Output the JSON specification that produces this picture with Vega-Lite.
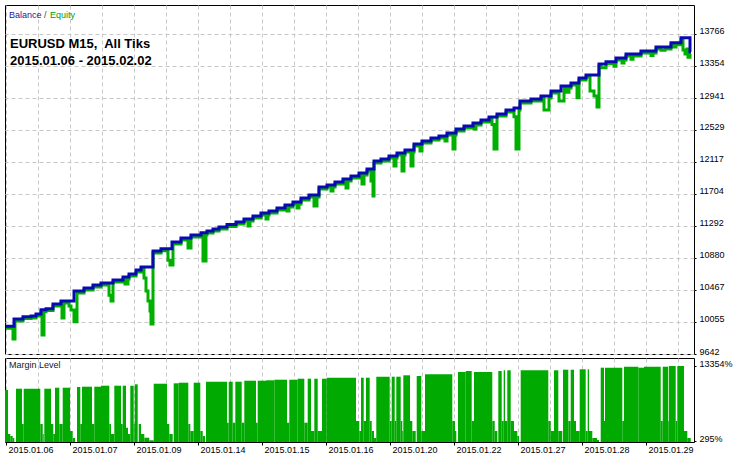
{
"$schema": "https://vega.github.io/schema/vega-lite/v6.json",
"padding": {"left": 4, "top": 4, "right": 0, "bottom": 0},
"background": "white",
"spacing": 0,
"config": {
  "view": {"stroke": "#000000", "strokeWidth": 1},
  "font": "Liberation Sans",
  "axis": {"labelFont": "Liberation Sans", "labelFontSize": 9, "labelColor": "#000000", "tickColor": "#000000"}
},
"datasets": {
"balance": [
{"i":0,"v":10000},{"i":8,"v":10093},{"i":17,"v":10123},{"i":25,"v":10132},{"i":30,"v":10157},{"i":35,"v":10213},{"i":40,"v":10226},{"i":47,"v":10286},{"i":55,"v":10325},{"i":68,"v":10454},{"i":78,"v":10493},{"i":87,"v":10531},{"i":95,"v":10557},{"i":107,"v":10596},{"i":117,"v":10634},{"i":123,"v":10673},{"i":130,"v":10725},{"i":135,"v":10763},{"i":147,"v":10969},{"i":155,"v":10999},{"i":166,"v":11085},{"i":175,"v":11137},{"i":185,"v":11176},{"i":195,"v":11205},{"i":201,"v":11227},{"i":207,"v":11253},{"i":213,"v":11279},{"i":221,"v":11311},{"i":230,"v":11343},{"i":238,"v":11382},{"i":247,"v":11420},{"i":255,"v":11459},{"i":263,"v":11485},{"i":271,"v":11524},{"i":279,"v":11562},{"i":287,"v":11601},{"i":295,"v":11653},{"i":303,"v":11691},{"i":313,"v":11794},{"i":321,"v":11820},{"i":329,"v":11859},{"i":337,"v":11897},{"i":345,"v":11936},{"i":353,"v":11975},{"i":361,"v":12026},{"i":368,"v":12129},{"i":375,"v":12155},{"i":383,"v":12194},{"i":391,"v":12232},{"i":399,"v":12271},{"i":408,"v":12348},{"i":416,"v":12387},{"i":425,"v":12425},{"i":433,"v":12451},{"i":441,"v":12490},{"i":450,"v":12541},{"i":458,"v":12580},{"i":467,"v":12619},{"i":475,"v":12657},{"i":483,"v":12696},{"i":491,"v":12735},{"i":500,"v":12787},{"i":508,"v":12812},{"i":514,"v":12903},{"i":525,"v":12928},{"i":535,"v":12967},{"i":545,"v":13031},{"i":555,"v":13096},{"i":565,"v":13135},{"i":573,"v":13199},{"i":580,"v":13238},{"i":593,"v":13380},{"i":600,"v":13409},{"i":610,"v":13457},{"i":620,"v":13508},{"i":635,"v":13547},{"i":650,"v":13598},{"i":665,"v":13654},{"i":675,"v":13718},{"i":684,"v":13538},{"i":685,"v":13538}
],
"equity": [
{"i":0,"v":9975},{"i":7,"v":9835},{"i":9,"v":10068},{"i":17,"v":10098},{"i":25,"v":10107},{"i":30,"v":10132},{"i":35,"v":10188},{"i":36,"v":9887},{"i":38,"v":10188},{"i":40,"v":10201},{"i":47,"v":10261},{"i":55,"v":10300},{"i":56,"v":10106},{"i":58,"v":10300},{"i":63,"v":10261},{"i":65,"v":10209},{"i":68,"v":10058},{"i":71,"v":10429},{"i":78,"v":10468},{"i":87,"v":10506},{"i":95,"v":10532},{"i":103,"v":10400},{"i":105,"v":10325},{"i":107,"v":10571},{"i":117,"v":10609},{"i":119,"v":10544},{"i":122,"v":10609},{"i":123,"v":10648},{"i":130,"v":10700},{"i":135,"v":10738},{"i":138,"v":10621},{"i":140,"v":10454},{"i":142,"v":10325},{"i":144,"v":10196},{"i":145,"v":10029},{"i":147,"v":10944},{"i":155,"v":10974},{"i":162,"v":10850},{"i":164,"v":10789},{"i":167,"v":11060},{"i":175,"v":11112},{"i":182,"v":11008},{"i":185,"v":11151},{"i":195,"v":11180},{"i":197,"v":10841},{"i":200,"v":11180},{"i":201,"v":11202},{"i":207,"v":11228},{"i":213,"v":11254},{"i":221,"v":11286},{"i":230,"v":11318},{"i":238,"v":11357},{"i":242,"v":11292},{"i":244,"v":11357},{"i":247,"v":11395},{"i":255,"v":11434},{"i":260,"v":11382},{"i":262,"v":11434},{"i":263,"v":11460},{"i":271,"v":11499},{"i":279,"v":11537},{"i":281,"v":11485},{"i":283,"v":11537},{"i":287,"v":11576},{"i":291,"v":11524},{"i":293,"v":11576},{"i":295,"v":11628},{"i":303,"v":11666},{"i":308,"v":11549},{"i":311,"v":11666},{"i":313,"v":11769},{"i":321,"v":11795},{"i":325,"v":11743},{"i":327,"v":11795},{"i":329,"v":11834},{"i":337,"v":11872},{"i":340,"v":11781},{"i":342,"v":11872},{"i":345,"v":11911},{"i":353,"v":11950},{"i":356,"v":11833},{"i":358,"v":11950},{"i":361,"v":12001},{"i":365,"v":11872},{"i":367,"v":11678},{"i":368,"v":12104},{"i":375,"v":12130},{"i":383,"v":12169},{"i":388,"v":12065},{"i":390,"v":12169},{"i":391,"v":12207},{"i":396,"v":12000},{"i":398,"v":12207},{"i":399,"v":12246},{"i":405,"v":12065},{"i":407,"v":12246},{"i":408,"v":12323},{"i":414,"v":12258},{"i":416,"v":12362},{"i":425,"v":12400},{"i":433,"v":12426},{"i":439,"v":12387},{"i":441,"v":12465},{"i":447,"v":12284},{"i":449,"v":12465},{"i":450,"v":12516},{"i":458,"v":12555},{"i":467,"v":12594},{"i":468,"v":12541},{"i":470,"v":12594},{"i":475,"v":12632},{"i":483,"v":12671},{"i":486,"v":12600},{"i":488,"v":12284},{"i":491,"v":12710},{"i":500,"v":12762},{"i":508,"v":12700},{"i":510,"v":12284},{"i":513,"v":12787},{"i":514,"v":12878},{"i":525,"v":12903},{"i":535,"v":12942},{"i":538,"v":12787},{"i":543,"v":12942},{"i":545,"v":13006},{"i":553,"v":12903},{"i":558,"v":13071},{"i":560,"v":13016},{"i":563,"v":13071},{"i":565,"v":13110},{"i":571,"v":12945},{"i":573,"v":13174},{"i":580,"v":13213},{"i":584,"v":13032},{"i":588,"v":12967},{"i":591,"v":12825},{"i":593,"v":13355},{"i":595,"v":13332},{"i":600,"v":13384},{"i":608,"v":13350},{"i":610,"v":13432},{"i":616,"v":13392},{"i":618,"v":13432},{"i":620,"v":13483},{"i":625,"v":13440},{"i":627,"v":13483},{"i":635,"v":13522},{"i":645,"v":13490},{"i":647,"v":13522},{"i":650,"v":13573},{"i":655,"v":13555},{"i":659,"v":13573},{"i":665,"v":13629},{"i":668,"v":13600},{"i":670,"v":13629},{"i":675,"v":13693},{"i":677,"v":13560},{"i":679,"v":13508},{"i":681,"v":13572},{"i":682,"v":13465},{"i":684,"v":13513},{"i":685,"v":13513}
],
"margin": [
{"a":-1,"b":2,"m":9175},{"a":2,"b":4.3,"m":1514},{"a":4.3,"b":6.7,"m":1166},{"a":6.7,"b":8.3,"m":817},{"a":10,"b":16,"m":9401},{"a":16,"b":17.7,"m":3255},{"a":17.7,"b":34.3,"m":9401},{"a":34.3,"b":36.7,"m":3255},{"a":36.7,"b":37.7,"m":1514},{"a":38.3,"b":45,"m":9401},{"a":45,"b":47.3,"m":3255},{"a":47.3,"b":49,"m":1514},{"a":49,"b":53.3,"m":9576},{"a":53.3,"b":56.7,"m":3255},{"a":56.7,"b":64,"m":9576},{"a":64,"b":66.7,"m":2036},{"a":66.7,"b":69,"m":817},{"a":71,"b":74.3,"m":9697},{"a":74.3,"b":76,"m":3255},{"a":76,"b":86,"m":9750},{"a":86,"b":88.3,"m":3255},{"a":88.3,"b":95,"m":9750},{"a":95,"b":103.3,"m":9924},{"a":103.3,"b":105,"m":3255},{"a":105,"b":108.3,"m":1514},{"a":108.3,"b":115,"m":9924},{"a":115,"b":116.7,"m":3255},{"a":116.7,"b":120,"m":9924},{"a":120,"b":122,"m":2610},{"a":122,"b":124.3,"m":1514},{"a":124.3,"b":127.7,"m":9924},{"a":127.7,"b":128.7,"m":3255},{"a":128.7,"b":131.7,"m":10167},{"a":132.7,"b":135,"m":3255},{"a":135,"b":138.3,"m":1514},{"a":138.3,"b":143.3,"m":870},{"a":143.3,"b":147.7,"m":417},{"a":147.7,"b":161,"m":10271},{"a":161,"b":163.3,"m":3255},{"a":163.3,"b":166.7,"m":1514},{"a":167.7,"b":172.7,"m":10341},{"a":172.7,"b":182.3,"m":10446},{"a":182.3,"b":184.3,"m":3255},{"a":184.3,"b":187.7,"m":2036},{"a":187.7,"b":194.3,"m":10446},{"a":194.3,"b":196.7,"m":2036},{"a":196.7,"b":199,"m":1166},{"a":200,"b":221,"m":10620},{"a":221,"b":222.7,"m":3481},{"a":222.7,"b":226.7,"m":10620},{"a":226.7,"b":229.3,"m":3481},{"a":229.3,"b":235.7,"m":10620},{"a":235.7,"b":238.3,"m":3481},{"a":238.3,"b":250,"m":10794},{"a":250,"b":251.7,"m":3481},{"a":251.7,"b":260,"m":10794},{"a":260,"b":268.3,"m":10864},{"a":268.3,"b":281,"m":10968},{"a":281,"b":283.3,"m":3481},{"a":283.3,"b":291.7,"m":10968},{"a":291.7,"b":298.3,"m":11142},{"a":298.3,"b":301.7,"m":3481},{"a":301.7,"b":305,"m":11142},{"a":305,"b":308.3,"m":2036},{"a":308.3,"b":311.7,"m":11142},{"a":311.7,"b":316,"m":2036},{"a":316,"b":320.7,"m":11142},{"a":320.7,"b":350,"m":11317},{"a":350,"b":353.3,"m":3777},{"a":353.3,"b":355,"m":2036},{"a":355,"b":357.7,"m":11317},{"a":357.7,"b":360,"m":3777},{"a":360,"b":363.7,"m":11317},{"a":363.7,"b":365.7,"m":3777},{"a":365.7,"b":368,"m":2036},{"a":368,"b":370.3,"m":817},{"a":370.3,"b":383.7,"m":11491},{"a":383.7,"b":385.7,"m":3777},{"a":385.7,"b":388.7,"m":11491},{"a":388.7,"b":390.3,"m":3777},{"a":390.3,"b":394.7,"m":11491},{"a":394.7,"b":396.3,"m":3777},{"a":396.3,"b":397.3,"m":2036},{"a":397.3,"b":404,"m":11735},{"a":404,"b":406.3,"m":3777},{"a":406.3,"b":409.7,"m":2036},{"a":410.7,"b":415.3,"m":11613},{"a":415.3,"b":419,"m":2036},{"a":419,"b":446.3,"m":11909},{"a":446.3,"b":449,"m":3777},{"a":449,"b":450.3,"m":2036},{"a":452,"b":459.7,"m":12309},{"a":459.7,"b":465.7,"m":12483},{"a":465.7,"b":468,"m":3777},{"a":468,"b":486.3,"m":12309},{"a":486.3,"b":488.7,"m":3777},{"a":488.7,"b":491.3,"m":2036},{"a":492.3,"b":495.7,"m":12483},{"a":495.7,"b":497.7,"m":3777},{"a":497.7,"b":499,"m":12605},{"a":499,"b":501.3,"m":3777},{"a":501.3,"b":504.7,"m":12605},{"a":504.7,"b":508,"m":3777},{"a":508,"b":511.3,"m":2036},{"a":511.3,"b":513,"m":1166},{"a":514.7,"b":542.3,"m":12605},{"a":542.3,"b":544.7,"m":3777},{"a":544.7,"b":548,"m":2036},{"a":548,"b":552.3,"m":12605},{"a":552.3,"b":556.3,"m":2036},{"a":557,"b":562.3,"m":12710},{"a":562.3,"b":564.7,"m":3777},{"a":564.7,"b":568,"m":12710},{"a":568,"b":570,"m":3777},{"a":570,"b":573.7,"m":2036},{"a":573.7,"b":579.7,"m":12780},{"a":579.7,"b":581.7,"m":2036},{"a":581.7,"b":583,"m":12780},{"a":583,"b":586.3,"m":2036},{"a":586.3,"b":591,"m":817},{"a":591,"b":593,"m":469},{"a":594.7,"b":598,"m":13058},{"a":598,"b":599,"m":3777},{"a":599,"b":616.3,"m":13058},{"a":616.3,"b":618,"m":3777},{"a":618,"b":632.3,"m":13232},{"a":632.3,"b":638,"m":13058},{"a":638,"b":654.7,"m":13232},{"a":654.7,"b":656.7,"m":3777},{"a":656.7,"b":662.3,"m":13232},{"a":662.3,"b":663,"m":3777},{"a":663,"b":669.7,"m":13354},{"a":669.7,"b":671.3,"m":3777},{"a":671.3,"b":678,"m":13354},{"a":678,"b":681.3,"m":2036},{"a":681.3,"b":684.7,"m":817}
]
},
"vconcat": [
{
  "width": 689, "height": 349,
  "layer": [
    {
      "data": {"name": "equity"},
      "mark": {"type": "line", "interpolate": "step-after", "color": "#00b000", "strokeWidth": 3, "clip": true},
      "encoding": {
        "x": {"field": "i", "type": "quantitative", "scale": {"domain": [-1, 688], "nice": false, "zero": false},
          "axis": {"values": [0,32,64,96,128,160,192,224,256,288,320,352,384,416,448,480,512,544,576,608,640,672], "tickCount": 100, "labels": false, "ticks": false, "domain": false, "title": null, "grid": true, "gridColor": "#c8c8c8", "gridDash": [4,3]}},
        "y": {"field": "v", "type": "quantitative", "scale": {"domain": [9642, 14139.7], "nice": false, "zero": false},
          "axis": {"orient": "right", "values": [9642,10055,10467,10880,11292,11704,12117,12529,12941,13354,13766], "tickCount": 100, "format": "d", "title": null, "domain": false, "tickSize": 2, "labelPadding": 3, "labelBaseline": "alphabetic", "labelFlush": false, "labelOverlap": false, "labelBound": false, "grid": true, "gridColor": "#c8c8c8", "gridDash": [4,3]}}
      }
    },
    {
      "data": {"name": "balance"},
      "mark": {"type": "line", "interpolate": "step-after", "color": "#0a0ab4", "strokeWidth": 3, "clip": true},
      "encoding": {
        "x": {"field": "i", "type": "quantitative"},
        "y": {"field": "v", "type": "quantitative"}
      }
    },
    {"data": {"values": [{}]}, "mark": {"type": "text", "text": "Balance", "color": "#1a1a9c", "font": "Liberation Sans", "fontSize": 9, "align": "left", "baseline": "alphabetic", "x": 4, "y": 12.7}},
    {"data": {"values": [{}]}, "mark": {"type": "text", "text": "/", "color": "#404040", "font": "Liberation Sans", "fontSize": 9, "align": "left", "baseline": "alphabetic", "x": 39, "y": 12.7}},
    {"data": {"values": [{}]}, "mark": {"type": "text", "text": "Equity", "color": "#00a000", "font": "Liberation Sans", "fontSize": 9, "align": "left", "baseline": "alphabetic", "x": 45, "y": 12.7}},
    {"data": {"values": [{}]}, "mark": {"type": "text", "text": "EURUSD M15,\u00a0 All Tiks", "color": "#000000", "font": "Liberation Sans", "fontSize": 13, "fontWeight": "bold", "align": "left", "baseline": "alphabetic", "x": 5, "y": 43}},
    {"data": {"values": [{}]}, "mark": {"type": "text", "text": "2015.01.06 - 2015.02.02", "color": "#000000", "font": "Liberation Sans", "fontSize": 13, "fontWeight": "bold", "align": "left", "baseline": "alphabetic", "x": 5, "y": 59.5}}
  ]
},
{
  "width": 689, "height": 84,
  "layer": [
    {
      "data": {"name": "margin"},
      "mark": {"type": "rect", "color": "#00aa00", "clip": true},
      "encoding": {
        "x": {"field": "a", "type": "quantitative", "scale": {"domain": [-1, 688], "nice": false, "zero": false},
          "axis": {"values": [0,32,64,96,128,160,192,224,256,288,320,352,384,416,448,480,512,544,576,608,640,672], "tickCount": 100, "title": null, "domain": false, "grid": true, "gridColor": "#c8c8c8", "gridDash": [4,3], "tickSize": 3,
            "tickOpacity": {"condition": {"test": "datum.value % 64 === 0", "value": 1}, "value": 0},
            "labelExpr": "datum.value % 64 === 0 ? ['2015.01.06','2015.01.07','2015.01.09','2015.01.14','2015.01.15','2015.01.16','2015.01.20','2015.01.22','2015.01.27','2015.01.28','2015.01.29'][datum.value / 64] : ''",
            "labelAlign": "left", "labelOffset": 2, "labelPadding": 0, "labelBaseline": "top", "labelOverlap": false, "labelFlush": false, "labelBound": false}},
        "x2": {"field": "b"},
        "y": {"field": "m", "type": "quantitative", "scale": {"domain": [121, 14747], "nice": false, "zero": false},
          "axis": {"orient": "right", "values": [295, 13354], "labelExpr": "datum.value + '%'", "title": null, "domain": false, "grid": false, "tickSize": 2, "labelPadding": 3, "labelBaseline": "alphabetic", "labelFlush": false, "labelOverlap": false, "labelBound": false}},
        "y2": {"datum": 121}
      }
    },
    {"data": {"values": [{}]}, "mark": {"type": "text", "text": "Margin Level", "color": "#202020", "font": "Liberation Sans", "fontSize": 9, "align": "left", "baseline": "alphabetic", "x": 4, "y": 9.7}}
  ]
}
]
}
